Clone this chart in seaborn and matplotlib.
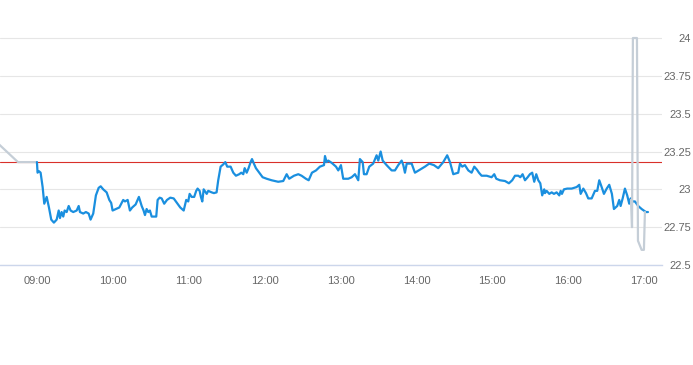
"""Intraday price chart: regular session (blue), extended hours (grey), previous close (red)."""
import pandas as pd
import matplotlib
matplotlib.use('Agg')
import matplotlib.pyplot as plt
import matplotlib.dates as mdates
import seaborn as sns

DAY = '2021-06-01'
PREV_CLOSE = 23.18

# minutes after 09:00 and price, regular session
blue_minutes = [
    0, 0.5, 1.6, 2.9, 4.5, 5.8, 7.7, 9.5, 11.3, 13.4, 15.6, 17.2, 18.2, 19.5, 20.8,
    21.9, 23.5, 25.1, 26.6, 28.7, 31.4, 33.0, 34.0, 36.6, 38.7, 40.9, 42.4, 44.5,
    46.6, 48.8, 50.4, 52.4, 55.1, 57.2, 58.7, 59.8, 62.5, 65.1, 67.0, 68.2, 69.6,
    71.7, 73.5, 75.3, 78.0, 80.6, 82.8, 84.3, 85.4, 86.7, 88.0, 89.3, 90.7, 94.3,
    95.4, 97.0, 98.6, 100.6, 102.8, 105.4, 108.1, 110.7, 113.3, 116.0, 118.0, 119.6,
    120.7, 122.3, 124.3, 125.9, 127.0, 128.6, 129.6, 130.7, 131.8, 134.2, 135.4,
    138.1, 139.9, 142.0, 143.3, 145.2, 147.3, 148.9, 150.4, 153.1, 155.2, 157.3,
    159.9, 161.5, 163.1, 164.2, 165.8, 167.3, 168.9, 170.0, 171.5, 173.1, 175.7,
    178.4, 181.6, 185.5, 190.7, 194.7, 197.4, 199.4, 203.2, 206.6, 209.2, 212.6,
    214.8, 217.4, 220.6, 223.7, 226.9, 227.7, 229.0, 230.3, 233.0, 236.4, 238.2,
    240.3, 242.1, 246.1, 248.8, 251.4, 254.0, 255.3, 257.5, 258.5, 260.6, 262.7,
    265.8, 268.5, 269.8, 271.7, 273.3, 276.4, 280.4, 283.0, 285.6, 288.3, 289.6,
    290.9, 292.3, 296.2, 298.8, 302.8, 306.7, 310.1, 313.8, 317.2, 321.2, 324.3,
    326.5, 329.1, 333.0, 334.4, 336.2, 338.3, 341.0, 343.6, 345.7, 347.8, 349.4,
    351.5, 355.5, 359.4, 361.5, 363.1, 366.0, 370.0, 373.1, 375.7, 377.9, 380.5,
    382.1, 383.9, 385.8, 387.9, 389.7, 391.5, 393.1, 394.7, 396.3, 397.9, 399.4,
    401.0, 401.6, 402.9, 405.0, 406.9, 408.7, 410.8, 412.9, 414.0, 415.0, 416.6,
    419.2, 422.7, 426.6, 428.7, 429.8, 431.9, 434.0, 435.8, 438.5, 441.1, 442.9,
    444.5, 446.4, 448.2, 450.4, 452.4, 454.5, 456.1, 458.7, 460.3, 461.4, 463.0,
    464.8, 466.6, 468.2, 469.3, 470.9, 472.7, 475.3, 478.0, 481.4, 483.0,
]
blue_prices = [
    23.18, 23.11, 23.12, 23.11, 23.015, 22.905, 22.95, 22.88, 22.80, 22.78, 22.80,
    22.86, 22.81, 22.85, 22.82, 22.86, 22.85, 22.89, 22.86, 22.85, 22.86, 22.89,
    22.85, 22.84, 22.85, 22.84, 22.80, 22.84, 22.96, 23.01, 23.02, 23.00, 22.98,
    22.93, 22.91, 22.86, 22.87, 22.88, 22.91, 22.93, 22.92, 22.93, 22.86, 22.88,
    22.90, 22.95, 22.89, 22.86, 22.83, 22.87, 22.85, 22.86, 22.82, 22.82, 22.93,
    22.945, 22.94, 22.905, 22.93, 22.945, 22.94, 22.91, 22.88, 22.86, 22.93, 22.92,
    22.97, 22.95, 22.95, 22.99, 23.005, 22.99, 22.95, 22.92, 23.00, 22.97, 22.99,
    22.98, 22.975, 22.98, 23.06, 23.15, 23.165, 23.18, 23.15, 23.15, 23.11, 23.09,
    23.10, 23.11, 23.10, 23.14, 23.11, 23.14, 23.18, 23.20, 23.17, 23.14, 23.11,
    23.08, 23.07, 23.06, 23.05, 23.055, 23.10, 23.07, 23.09, 23.10, 23.09, 23.07,
    23.06, 23.11, 23.125, 23.15, 23.16, 23.22, 23.18, 23.19, 23.175, 23.15, 23.125,
    23.16, 23.07, 23.07, 23.08, 23.10, 23.06, 23.20, 23.18, 23.10, 23.10, 23.15,
    23.17, 23.225, 23.19, 23.25, 23.19, 23.16, 23.125, 23.125, 23.16, 23.19, 23.16,
    23.11, 23.17, 23.17, 23.11, 23.13, 23.15, 23.17, 23.16, 23.14, 23.18, 23.225,
    23.18, 23.10, 23.11, 23.17, 23.15, 23.16, 23.125, 23.11, 23.15, 23.13, 23.11,
    23.09, 23.09, 23.08, 23.10, 23.07, 23.06, 23.055, 23.04, 23.06, 23.09, 23.09,
    23.08, 23.10, 23.06, 23.08, 23.10, 23.11, 23.05, 23.10, 23.06, 23.04, 22.96,
    23.00, 22.975, 22.99, 22.97, 22.98, 22.97, 22.98, 22.96, 22.99, 22.97, 23.00,
    23.005, 23.005, 23.015, 23.03, 22.97, 23.005, 22.975, 22.94, 22.94, 22.99, 22.99,
    23.06, 23.015, 22.97, 23.005, 23.03, 22.97, 22.87, 22.89, 22.93, 22.89, 22.94,
    23.005, 22.96, 22.905, 22.94, 22.92, 22.92, 22.89, 22.87, 22.85, 22.85,
]

# extended hours (grey)
pre_minutes = [-31, -15, 0]
pre_prices = [23.305, 23.18, 23.18]
post_minutes = [469.6, 470.4, 471.1, 474.3, 475.1, 478.0, 479.8, 480.6]
post_prices = [22.93, 22.75, 24.0, 24.0, 22.66, 22.60, 22.60, 22.85]

y_ticks = [22.5, 22.75, 23, 23.25, 23.5, 23.75, 24]
y_labels = ['22.5', '22.75', '23', '23.25', '23.5', '23.75', '24']


def to_frame(minutes, prices):
    start = pd.Timestamp(DAY + ' 09:00')
    return pd.DataFrame({
        'time': start + pd.to_timedelta(minutes, unit='min'),
        'price': prices,
    })


def main():
    sns.set_style('white')
    plt.rcParams['font.family'] = ['Liberation Sans', 'DejaVu Sans']

    fig = plt.figure(figsize=(6.93, 3.65), dpi=100)
    ax = fig.add_axes([0, 100 / 365, 662 / 693, 235 / 365])

    grey = '#c5ced7'
    sns.lineplot(data=to_frame(pre_minutes, pre_prices), x='time', y='price',
                 ax=ax, color=grey, linewidth=1.6, estimator=None, sort=False)
    sns.lineplot(data=to_frame(blue_minutes, blue_prices), x='time', y='price',
                 ax=ax, color='#1a8fdf', linewidth=1.6, estimator=None, sort=False)
    sns.lineplot(data=to_frame(post_minutes, post_prices), x='time', y='price',
                 ax=ax, color=grey, linewidth=1.6, estimator=None, sort=False)
    ax.axhline(PREV_CLOSE, color='#d9302a', linewidth=0.8, zorder=1.5)

    t0 = pd.Timestamp(DAY + ' 09:00')
    ax.set_xlim(t0 - pd.Timedelta(minutes=29.2), t0 + pd.Timedelta(minutes=494.1))
    ax.set_ylim(22.5, 24.053)

    ax.xaxis.set_major_locator(mdates.HourLocator())
    ax.xaxis.set_major_formatter(mdates.DateFormatter('%H:%M'))
    ax.set_yticks(y_ticks, labels=y_labels, ha='right')
    ax.yaxis.tick_right()

    ax.grid(axis='y', color='#e6e6e6', linewidth=0.8)
    ax.set_axisbelow(True)
    for side in ['top', 'left', 'right']:
        ax.spines[side].set_visible(False)
    ax.spines['bottom'].set_color('#ccd6eb')
    ax.spines['bottom'].set_linewidth(1)

    ax.tick_params(axis='x', length=5, color='#ccd6eb', pad=3,
                   labelsize=8, labelcolor='#666666')
    ax.tick_params(axis='y', length=0, pad=21, labelsize=8,
                   labelcolor='#666666')
    ax.set_xlabel('')
    ax.set_ylabel('')

    fig.savefig('out.png', dpi=100)


if __name__ == '__main__':
    main()
